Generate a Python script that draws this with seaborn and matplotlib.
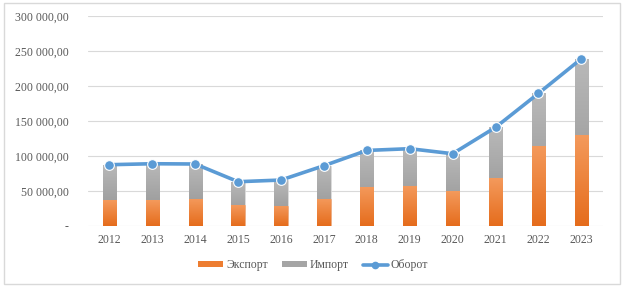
import numpy as np
import pandas as pd
import matplotlib
matplotlib.use("Agg")
import matplotlib.pyplot as plt
import seaborn as sns
from matplotlib.patches import Patch, Rectangle
from matplotlib.lines import Line2D
from matplotlib.colors import LinearSegmentedColormap
from matplotlib.ticker import FuncFormatter

years = ["2012", "2013", "2014", "2015", "2016", "2017", "2018", "2019", "2020", "2021", "2022", "2023"]
export = [36700, 36700, 38600, 29500, 28600, 39000, 56200, 57600, 50000, 68100, 114800, 129500]
turnover = [87600, 89000, 88600, 63300, 65700, 86200, 108000, 110500, 103300, 141000, 189500, 239000]
imports = [t - e for t, e in zip(turnover, export)]
yticks = [0, 50000, 100000, 150000, 200000, 250000, 300000]

df = pd.DataFrame({"year": years, "export": export, "import": imports, "turnover": turnover})

sns.set_theme(style="white")
plt.rcParams["font.family"] = ["Liberation Serif", "DejaVu Serif"]
text_color = "#595959"

fig = plt.figure(figsize=(6.24, 2.87), dpi=100)
ax = fig.add_axes([0.141, 0.2125, 0.825, 0.7315])

# grid
for v in yticks:
    ax.axhline(v, color="#D9D9D9", lw=0.8, zorder=0)

bw = 0.31
sns.barplot(data=df, x="year", y="turnover", color="#A5A5A5", width=bw, ax=ax,
            saturation=1, zorder=2, edgecolor="#E0E0E0", linewidth=0.5)
sns.barplot(data=df, x="year", y="export", color="#ED7D31", width=bw, ax=ax,
            saturation=1, zorder=3, edgecolor="#F2B38A", linewidth=0.5)

# gradient fills
n = len(years)
gray_cmap = LinearSegmentedColormap.from_list("g", ["#8E8E8E", "#B9B9B9"])
orange_cmap = LinearSegmentedColormap.from_list("o", ["#E56C1C", "#F49A5C"])
patches = list(ax.patches)
grad = np.linspace(0, 1, 256).reshape(-1, 1)
for i, p in enumerate(patches):
    cmap = gray_cmap if i < n else orange_cmap
    x0, y0 = p.get_x(), p.get_y()
    w, h = p.get_width(), p.get_height()
    im = ax.imshow(grad, cmap=cmap, aspect="auto", origin="lower",
                   extent=[x0, x0 + w, y0, y0 + h], zorder=p.get_zorder() + 0.1)
    im.set_clip_path(p)

sns.pointplot(data=df, x="year", y="turnover", color="#5B9BD5", ax=ax,
              markers="o", linestyles="-", markersize=7, linewidth=2.6,
              markeredgecolor="white", markeredgewidth=0.8, zorder=5)

ax.set_xlim(-0.5, n - 0.5)
ax.set_ylim(0, 300000)
ax.set_yticks(yticks)
ax.yaxis.set_major_formatter(FuncFormatter(
    lambda v, p: "-" if v == 0 else f"{int(v):,}".replace(",", " ") + ",00"))
ax.set_xlabel("")
ax.set_ylabel("")
ax.tick_params(axis="both", colors=text_color, labelsize=8.5, length=0, pad=6)
ax.tick_params(axis="y", pad=14)
for lbl in ax.get_yticklabels():
    lbl.set_horizontalalignment("right")
for s in ax.spines.values():
    s.set_visible(False)

handles = [
    Patch(facecolor="#ED7D31", edgecolor="none"),
    Patch(facecolor="#A5A5A5", edgecolor="none"),
    Line2D([0], [0], color="#5B9BD5", lw=2.6, marker="o", markersize=4.5,
           markeredgecolor="#5B9BD5"),
]
fig.legend(handles, ["Экспорт", "Импорт", "Оборот"], loc="center",
           bbox_to_anchor=(0.502, 0.075), ncol=3, frameon=False, fontsize=8.5,
           labelcolor=text_color, handlelength=2.1, handleheight=0.45,
           columnspacing=1.2, handletextpad=0.25)

fig.patches.append(Rectangle((0.006, 0.012), 0.988, 0.976, transform=fig.transFigure,
                             fill=False, edgecolor="#D9D9D9", lw=1.0))

fig.savefig("out.png", dpi=100)
